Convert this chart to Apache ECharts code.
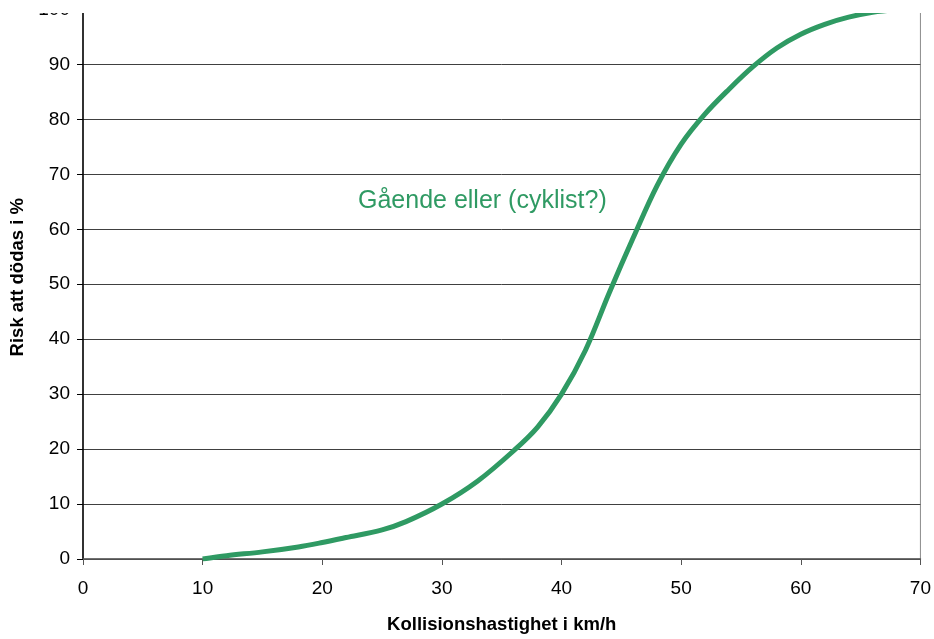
<!DOCTYPE html>
<html><head><meta charset="utf-8">
<script src="https://cdn.jsdelivr.net/npm/echarts@6/dist/echarts.min.js"></script>
<style>html,body{margin:0;padding:0;background:#fff}#c{width:934px;height:639px}</style>
</head><body><div id="c"></div>
<script>
const speeds = [10, 12, 15, 18, 20, 22, 25, 27, 30, 33, 36, 38, 40, 42, 44, 46, 48, 50, 52, 54, 56, 58, 60, 62, 64, 66, 68];
const risk   = [0, 0.6, 1.3, 2.2, 3.0, 3.9, 5.3, 6.8, 10, 14.2, 19.7, 24, 30, 38, 48.5, 58.5, 68, 75.5, 81, 85.5, 89.6, 93, 95.5, 97.3, 98.6, 99.5, 100];
const seriesLabel = 'Gående eller (cyklist?)';
const xTitle = 'Kollisionshastighet i km/h';
const yTitle = 'Risk att dödas i %';

const chart = echarts.init(document.getElementById('c'), null, {renderer: 'canvas'});
const green = '#2f9a63';
chart.setOption({
  animation: false,
  grid: {left: 83, right: 13, top: 6.3, bottom: 76, show: true, borderColor: '#8a8a8a', borderWidth: 1, backgroundColor: 'transparent'},
  xAxis: {
    type: 'value', min: 0, max: 70, interval: 10,
    name: xTitle, nameLocation: 'middle', nameGap: 56,
    nameTextStyle: {fontFamily: 'Liberation Sans', fontWeight: 'bold', fontSize: 18.5, color: '#000'},
    axisLine: {lineStyle: {color: '#555', width: 1.5}},
    axisTick: {show: true, length: 6, lineStyle: {color: '#555'}},
    axisLabel: {fontFamily: 'Liberation Sans', fontSize: 19, color: '#000', margin: 20},
    splitLine: {show: false}
  },
  yAxis: {
    type: 'value', min: 0, max: 100, interval: 10,
    name: yTitle, nameLocation: 'middle', nameGap: 55,
    nameTextStyle: {fontFamily: 'Liberation Sans', fontWeight: 'bold', fontSize: 18.5, color: '#000', padding: [0, 0, 0, 14]},
    axisLine: {show: true, lineStyle: {color: '#000', width: 1.5}},
    axisTick: {show: true, length: 6, lineStyle: {color: '#000'}},
    axisLabel: {fontFamily: 'Liberation Sans', fontSize: 19, color: '#000', margin: 13},
    splitLine: {show: true, lineStyle: {color: '#404040', width: 1}}
  },
  series: [{
    type: 'line', name: seriesLabel,
    data: speeds.map((s, i) => [s, risk[i]]),
    smooth: 0.35, showSymbol: false, clip: true,
    lineStyle: {color: green, width: 5}
  }],
  graphic: [
    {type: 'rect', left: 0, top: 0, shape: {width: 934, height: 13}, style: {fill: '#fff'}, z: 100},
    {type: 'text', left: 358, top: 189, style: {text: seriesLabel, fill: green, font: '25px "Liberation Sans"'}, z: 50}
  ]
});
</script></body></html>
